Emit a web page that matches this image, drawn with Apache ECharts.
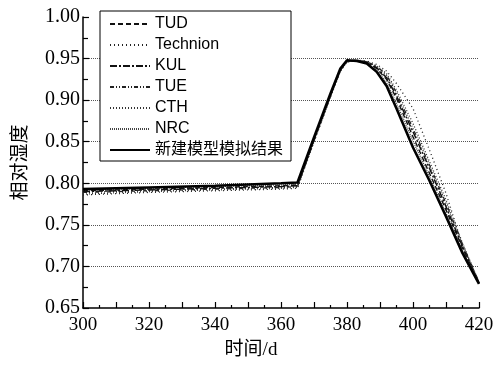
<!DOCTYPE html>
<html>
<head>
<meta charset="utf-8">
<script src="https://cdn.jsdelivr.net/npm/echarts@6/dist/echarts.min.js"></script>
<style>html,body{margin:0;padding:0;background:#fff;}#c{width:498px;height:365px;}</style>
</head>
<body>
<div id="c"></div>
<script>
// Days (x values) shared by all series
var days = [300, 320, 340, 360, 365, 370, 375, 378, 380, 383, 386, 389, 392, 395, 400, 405, 410, 415, 420];
var seriesNames = ['TUD', 'Technion', 'KUL', 'TUE', 'CTH', 'NRC', '新建模型模拟结果'];
var tud      = [0.791, 0.793, 0.795, 0.797, 0.798, 0.853, 0.907, 0.937, 0.947, 0.948, 0.945, 0.938, 0.925, 0.902, 0.856, 0.812, 0.768, 0.722, 0.680];
var technion = [0.786, 0.789, 0.791, 0.793, 0.794, 0.850, 0.904, 0.935, 0.946, 0.948, 0.947, 0.943, 0.935, 0.920, 0.890, 0.840, 0.788, 0.725, 0.680];
var kul      = [0.790, 0.792, 0.794, 0.796, 0.797, 0.852, 0.906, 0.936, 0.947, 0.948, 0.946, 0.939, 0.927, 0.905, 0.862, 0.818, 0.772, 0.724, 0.680];
var tue      = [0.789, 0.791, 0.793, 0.795, 0.796, 0.851, 0.905, 0.936, 0.946, 0.948, 0.946, 0.941, 0.930, 0.909, 0.866, 0.822, 0.776, 0.727, 0.681];
var cth      = [0.787, 0.790, 0.792, 0.794, 0.795, 0.850, 0.904, 0.935, 0.946, 0.948, 0.946, 0.941, 0.932, 0.912, 0.872, 0.826, 0.780, 0.728, 0.681];
var nrc      = [0.792, 0.794, 0.796, 0.798, 0.799, 0.854, 0.907, 0.937, 0.947, 0.947, 0.944, 0.936, 0.921, 0.896, 0.851, 0.808, 0.764, 0.719, 0.679];
var model    = [0.793, 0.795, 0.797, 0.800, 0.801, 0.855, 0.908, 0.938, 0.948, 0.947, 0.944, 0.934, 0.917, 0.890, 0.843, 0.803, 0.760, 0.716, 0.679];

var allValues = [tud, technion, kul, tue, cth, nrc, model];
var styles = [
  {type: [5, 3], width: 1.4, color: '#111'},
  {type: [1, 3], width: 1.3, color: '#222'},
  {type: [7, 2, 2, 2], width: 1.5, color: '#111'},
  {type: [4, 2, 1, 2, 1, 2], width: 1.3, color: '#222'},
  {type: [1, 2], width: 1.3, color: '#333'},
  {type: [1, 1], width: 1.3, color: '#444'},
  {type: 'solid', width: 2.6, color: '#000'}
];

function pairs(vals) {
  return days.map(function (d, i) { return [d, vals[i]]; });
}

var series = seriesNames.map(function (n, i) {
  return {
    name: n,
    type: 'line',
    symbol: 'none',
    data: pairs(allValues[i]),
    lineStyle: styles[i],
    itemStyle: {color: styles[i].color},
    z: i === 6 ? 5 : 3
  };
});

var chart = echarts.init(document.getElementById('c'));
chart.setOption({
  animation: false,
  backgroundColor: '#fff',
  grid: {left: 83, right: 19, top: 17, bottom: 54},
  legend: {
    orient: 'vertical',
    left: 100,
    top: 11,
    padding: [5, 8, 3, 9],
    itemWidth: 40,
    itemHeight: 14,
    itemGap: 5,
    borderColor: '#000',
    borderWidth: 1,
    backgroundColor: '#fff',
    itemStyle: {opacity: 0},
    textStyle: {fontFamily: 'Liberation Sans, Noto Sans CJK SC', fontSize: 16, color: '#000', lineHeight: 16},
    data: seriesNames
  },
  xAxis: {
    type: 'value',
    min: 300,
    max: 420,
    interval: 10,
    name: '时间/d',
    nameLocation: 'middle',
    nameGap: 33,
    nameTextStyle: {fontFamily: 'Liberation Serif, Noto Sans CJK SC', fontSize: 19, color: '#000', padding: [0, 60, 0, 0]},
    axisLine: {lineStyle: {color: '#000', width: 1.5}},
    axisTick: {inside: true, length: 6, lineStyle: {color: '#000', width: 1.2}},
    minorTick: {show: true, splitNumber: 2, length: 3, lineStyle: {color: '#000', width: 1.2}},
    axisLabel: {
      margin: 8,
      fontFamily: 'Liberation Serif', fontSize: 19, color: '#000',
      formatter: function (v) { return v % 20 === 0 ? String(v) : ''; }
    },
    splitLine: {show: false}
  },
  yAxis: {
    type: 'value',
    min: 0.65,
    max: 1.0,
    interval: 0.05,
    name: '相对湿度',
    nameLocation: 'middle',
    nameGap: 55,
    nameTextStyle: {fontFamily: 'Noto Sans CJK SC', fontSize: 19, color: '#000'},
    axisLine: {show: true, lineStyle: {color: '#000', width: 1.5}},
    axisTick: {show: true, inside: true, length: 6, lineStyle: {color: '#000', width: 1.2}},
    minorTick: {show: true, splitNumber: 2, length: 5, lineStyle: {color: '#000', width: 1.2}},
    axisLabel: {
      margin: 3,
      fontFamily: 'Liberation Serif', fontSize: 20, color: '#000',
      formatter: function (v) { return v.toFixed(2); }
    },
    splitLine: {show: true, showMinLine: false, showMaxLine: false, lineStyle: {type: [1, 1], color: '#555', width: 1}}
  },
  series: series
});
</script>
</body>
</html>
